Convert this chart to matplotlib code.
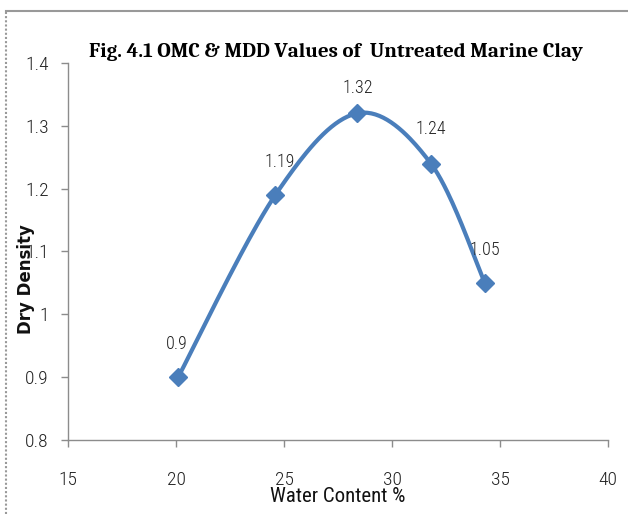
import matplotlib
matplotlib.use("Agg")
import matplotlib.pyplot as plt
from matplotlib.lines import Line2D
import numpy as np

water_content = [20.1, 24.6, 28.4, 31.8, 34.3]
dry_density = [0.9, 1.19, 1.32, 1.24, 1.05]
point_labels = ["0.9", "1.19", "1.32", "1.24", "1.05"]
x_ticks = [15, 20, 25, 30, 35, 40]
y_ticks = [0.8, 0.9, 1.0, 1.1, 1.2, 1.3, 1.4]
y_tick_labels = ["0.8", "0.9", "1", "1.1", "1.2", "1.3", "1.4"]

blue = "#4a7ebb"
grey = "#8c8c8c"
tick_font = "Roboto Condensed"


def smooth_curve(xs, ys, steps=40):
    # bezier segments with catmull-rom style control points (like a spreadsheet smoothed line)
    p = np.column_stack([xs, ys]).astype(float)
    p = np.vstack([p[0], p, p[-1]])
    out = []
    for i in range(1, len(p) - 2):
        p0, p1, p2, p3 = p[i - 1], p[i], p[i + 1], p[i + 2]
        c1 = p1 + (p2 - p0) / 6.0
        c2 = p2 - (p3 - p1) / 6.0
        t = np.linspace(0, 1, steps)[:, None]
        seg = ((1 - t) ** 3) * p1 + 3 * ((1 - t) ** 2) * t * c1 + 3 * (1 - t) * t ** 2 * c2 + t ** 3 * p2
        out.append(seg)
    out = np.vstack(out)
    return out[:, 0], out[:, 1]


fig = plt.figure(figsize=(6.28, 5.14), dpi=100)
ax = fig.add_axes([68 / 628, 1 - 440 / 514, 540 / 628, 377 / 514])

sx, sy = smooth_curve(water_content, dry_density)
ax.plot(sx, sy, color=blue, linewidth=3, solid_capstyle="round", zorder=2)
ax.plot(water_content, dry_density, linestyle="none", marker="D", markersize=9,
        color=blue, zorder=3)

label_offsets = [(-1, 24), (3, 24), (0, 18), (0, 25), (0, 24)]
for x, y, txt, off in zip(water_content, dry_density, point_labels, label_offsets):
    ax.annotate(txt, (x, y), xytext=off, textcoords="offset points", ha="center",
                va="center", fontsize=13, family=tick_font, weight="light", color="#222222")

ax.set_xlim(15, 40)
ax.set_ylim(0.8, 1.4)
ax.set_xticks(x_ticks)
ax.set_yticks(y_ticks)
ax.set_yticklabels(y_tick_labels)
for lab in ax.get_xticklabels() + ax.get_yticklabels():
    lab.set_family(tick_font)
    lab.set_weight("light")
    lab.set_fontsize(14)
    lab.set_color("#222222")

ax.spines["top"].set_visible(False)
ax.spines["right"].set_visible(False)
for s in ["left", "bottom"]:
    ax.spines[s].set_color(grey)
    ax.spines[s].set_linewidth(1.0)
ax.tick_params(axis="both", direction="out", length=5, color=grey, width=1.0)
ax.tick_params(axis="x", pad=17)
ax.tick_params(axis="y", pad=9)

fig.text(336 / 628, 1 - 52 / 514, "Fig. 4.1 OMC & MDD Values of  Untreated Marine Clay",
         ha="center", va="center", fontsize=15, fontweight="bold", family="Caladea")
fig.text(338 / 628, 1 - 497 / 514, "Water Content %", ha="center", va="center",
         fontsize=15, family=tick_font, color="#111111")
fig.text(26 / 628, 1 - 279 / 514, "Dry Density", ha="center", va="center",
         rotation=90, fontsize=12, fontweight="bold", family="DejaVu Sans", color="#111111")

# chart frame edges
fig.add_artist(Line2D([6 / 628, 1], [1 - 11 / 514, 1 - 11 / 514], color="#999999", lw=1.5))
fig.add_artist(Line2D([6 / 628, 6 / 628], [0, 1 - 11 / 514], color="#999999", lw=1.5,
                      linestyle=(0, (1, 1))))

fig.savefig("out.png", dpi=100)
